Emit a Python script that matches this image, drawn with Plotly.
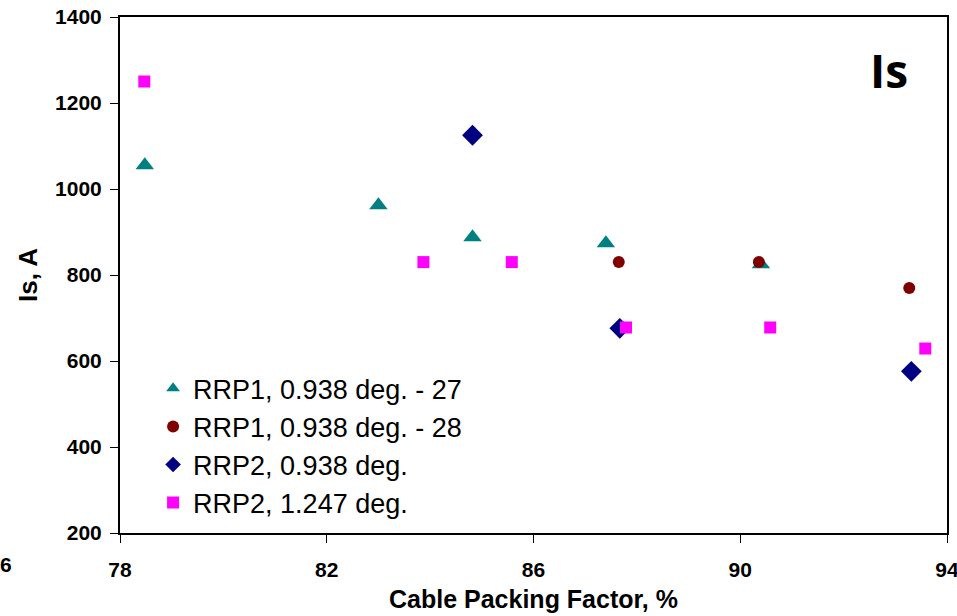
import plotly.graph_objects as go

# Data
rrp1_27_x = [78.48, 83.0, 84.82, 87.4, 90.4]
rrp1_27_y = [1055, 962, 888, 874, 825]

rrp1_28_x = [87.65, 90.36, 93.27]
rrp1_28_y = [830, 830, 770]

rrp2_0938_x = [84.82, 87.67, 93.31]
rrp2_0938_y = [1125, 676, 576]

rrp2_1247_x = [78.47, 83.87, 85.58, 87.79, 90.58, 93.58]
rrp2_1247_y = [1250, 830, 830, 678, 678, 629]

x_ticks = [78, 82, 86, 90, 94]
y_ticks = [200, 400, 600, 800, 1000, 1200, 1400]

FONT = "Liberation Sans, Arial, sans-serif"

fig = go.Figure()
series = [
    ("RRP1, 0.938 deg. - 27", rrp1_27_x, rrp1_27_y, "triangle-up", "#008080", 16),
    ("RRP1, 0.938 deg. - 28", rrp1_28_x, rrp1_28_y, "circle", "#800000", 12),
    ("RRP2, 0.938 deg.", rrp2_0938_x, rrp2_0938_y, "diamond", "#000080", 16),
    ("RRP2, 1.247 deg.", rrp2_1247_x, rrp2_1247_y, "square", "#FF00FF", 12),
]
for i, (name, xs, ys, sym, col, sz) in enumerate(series):
    fig.add_trace(go.Scatter(
        x=xs, y=ys, mode="markers", name=name, legendgroup=f"g{i}",
        marker=dict(symbol=sym, color=col, size=sz, line=dict(width=0)),
    ))

fig.update_layout(
    width=957, height=616,
    margin=dict(l=120, r=10, t=17, b=83, autoexpand=False),
    paper_bgcolor="white", plot_bgcolor="white",
    font=dict(family=FONT, color="black"),
    legend=dict(
        x=0.04, y=0.327, xanchor="left", yanchor="top",
        bgcolor="rgba(0,0,0,0)", font=dict(size=27, family=FONT),
        tracegroupgap=0, itemsizing="constant", itemwidth=30,
    ),
    showlegend=True,
)
fig.update_xaxes(
    range=[78, 94], tickvals=x_ticks, ticktext=[f"<b>{v}</b>" for v in x_ticks],
    automargin=False, ticklabeloverflow="allow",
    showgrid=False, zeroline=False, showline=True, linecolor="black", linewidth=2,
    mirror=True, ticks="outside", ticklen=8, tickwidth=1, tickcolor="black",
    tickfont=dict(size=21, family=FONT), ticklabelstandoff=9,
    title=dict(text="<b>Cable Packing Factor, %</b>", font=dict(size=25, family=FONT), standoff=10),
)
fig.update_yaxes(
    range=[200, 1400], tickvals=y_ticks, ticktext=[f"<b>{v}</b>" for v in y_ticks],
    automargin=False, ticklabeloverflow="allow",
    showgrid=False, zeroline=False, showline=True, linecolor="black", linewidth=2,
    mirror=True, ticks="outside", ticklen=8, tickwidth=1, tickcolor="black",
    tickfont=dict(size=21, family=FONT), ticklabelstandoff=4,
    title=dict(text="<b>Is, A</b>", font=dict(size=26, family=FONT), standoff=10),
)
fig.add_annotation(
    text="<b>Is</b>", xref="paper", yref="paper", x=0.93, y=0.897,
    xanchor="center", yanchor="middle", showarrow=False,
    font=dict(size=46, family="Open Sans, sans-serif", color="black"),
)
fig.add_annotation(
    text="<b>6</b>", xref="paper", yref="paper", x=-0.147, y=-0.062,
    xanchor="left", yanchor="middle", showarrow=False,
    font=dict(size=21, family=FONT, color="black"),
)
fig.write_html("out.html")
